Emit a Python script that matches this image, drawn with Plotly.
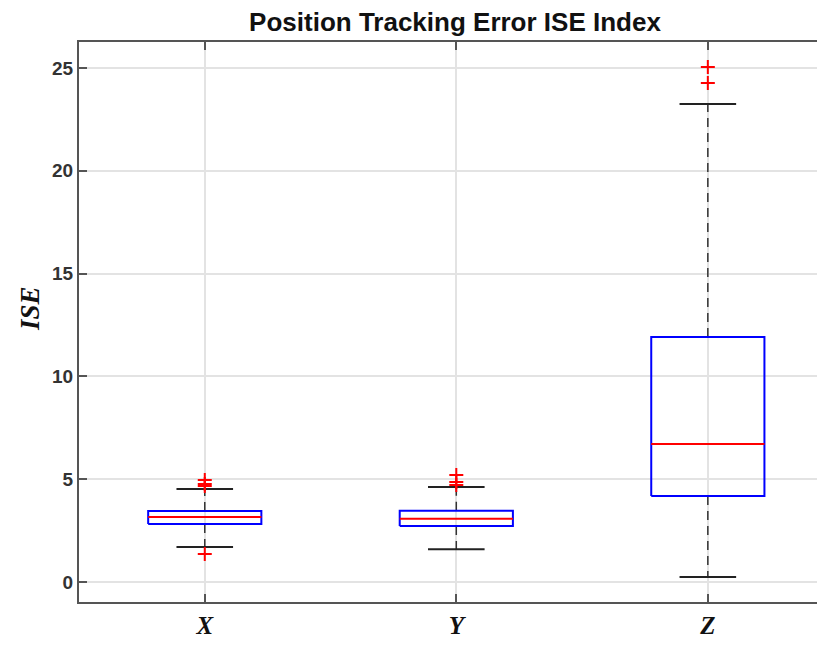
import plotly.graph_objects as go

categories = ["X", "Y", "Z"]
positions = [1, 2, 3]
q1 = [2.82, 2.72, 4.18]
median = [3.16, 3.08, 6.71]
q3 = [3.45, 3.47, 11.92]
lower_whisker = [1.70, 1.60, 0.24]
upper_whisker = [4.52, 4.62, 23.25]
outliers = [
    [4.96, 4.77, 4.67, 1.36],
    [5.20, 4.86, 4.72],
    [25.05, 24.27],
]
y_ticks = [0, 5, 10, 15, 20, 25]

box_w = 0.45
cap_w = 0.225

fig = go.Figure()

for i, p in enumerate(positions):
    # whiskers (dashed)
    fig.add_trace(go.Scatter(
        x=[p, p, None, p, p], y=[q3[i], upper_whisker[i], None, q1[i], lower_whisker[i]],
        mode="lines", line=dict(color="#333333", width=1.5, dash="9px,6px"),
        hoverinfo="skip", showlegend=False))
    # caps
    fig.add_trace(go.Scatter(
        x=[p - cap_w / 2, p + cap_w / 2, None, p - cap_w / 2, p + cap_w / 2],
        y=[upper_whisker[i], upper_whisker[i], None, lower_whisker[i], lower_whisker[i]],
        mode="lines", line=dict(color="#222222", width=2),
        hoverinfo="skip", showlegend=False))
    # box
    fig.add_trace(go.Scatter(
        x=[p - box_w / 2, p + box_w / 2, p + box_w / 2, p - box_w / 2, p - box_w / 2],
        y=[q1[i], q1[i], q3[i], q3[i], q1[i]],
        mode="lines", line=dict(color="#0000ff", width=2),
        hoverinfo="skip", showlegend=False))
    # median
    fig.add_trace(go.Scatter(
        x=[p - box_w / 2, p + box_w / 2], y=[median[i], median[i]],
        mode="lines", line=dict(color="#ff0000", width=2),
        hoverinfo="skip", showlegend=False))
    # outliers
    fig.add_trace(go.Scatter(
        x=[p] * len(outliers[i]), y=outliers[i], mode="markers",
        marker=dict(symbol="cross-thin", size=10, line=dict(color="#ff0000", width=2)),
        hoverinfo="skip", showlegend=False))

FIG_W, FIG_H = 809, 630

fig.update_layout(
    width=FIG_W, height=FIG_H,
    margin=dict(l=71, r=0, t=34, b=36, autoexpand=False),
    paper_bgcolor="white", plot_bgcolor="white",
    title=dict(text="Position Tracking Error ISE Index", x=447 / FIG_W, xanchor="center",
               xref="container", y=1 - 14 / FIG_H, yanchor="middle", yref="container",
               font=dict(family="Liberation Sans, Arial", size=26,
                         color="#111111", weight="bold")),
    annotations=[dict(
        text="ISE", textangle=-90, xref="paper", yref="paper",
        x=0, xshift=-49, y=0.523, xanchor="center", yanchor="middle", showarrow=False,
        font=dict(family="Liberation Serif, DejaVu Serif", size=27, color="#111111",
                  weight="bold", style="italic"))],
)

fig.update_xaxes(
    range=[0.5, 3.434], tickvals=positions, ticktext=categories, automargin=False,
    tickfont=dict(family="Liberation Serif, DejaVu Serif", size=25, color="#111111",
                  weight="bold", style="italic"),
    showgrid=True, gridcolor="#e3e3e3", gridwidth=1.5,
    showline=True, linecolor="#555555", linewidth=2, mirror="ticks",
    ticks="inside", ticklen=8, tickcolor="#555555", tickwidth=1.5,
    zeroline=False,
)
fig.update_yaxes(
    range=[-0.97, 26.26], tickvals=y_ticks, automargin=False,
    tickfont=dict(family="Liberation Sans, Arial", size=19, color="#333333", weight="bold"),
    showgrid=True, gridcolor="#e3e3e3", gridwidth=1.5,
    showline=True, linecolor="#555555", linewidth=2, mirror=False,
    ticks="inside", ticklen=8, tickcolor="#555555", tickwidth=1.5,
    zeroline=False,
)

fig.write_html("out.html")
